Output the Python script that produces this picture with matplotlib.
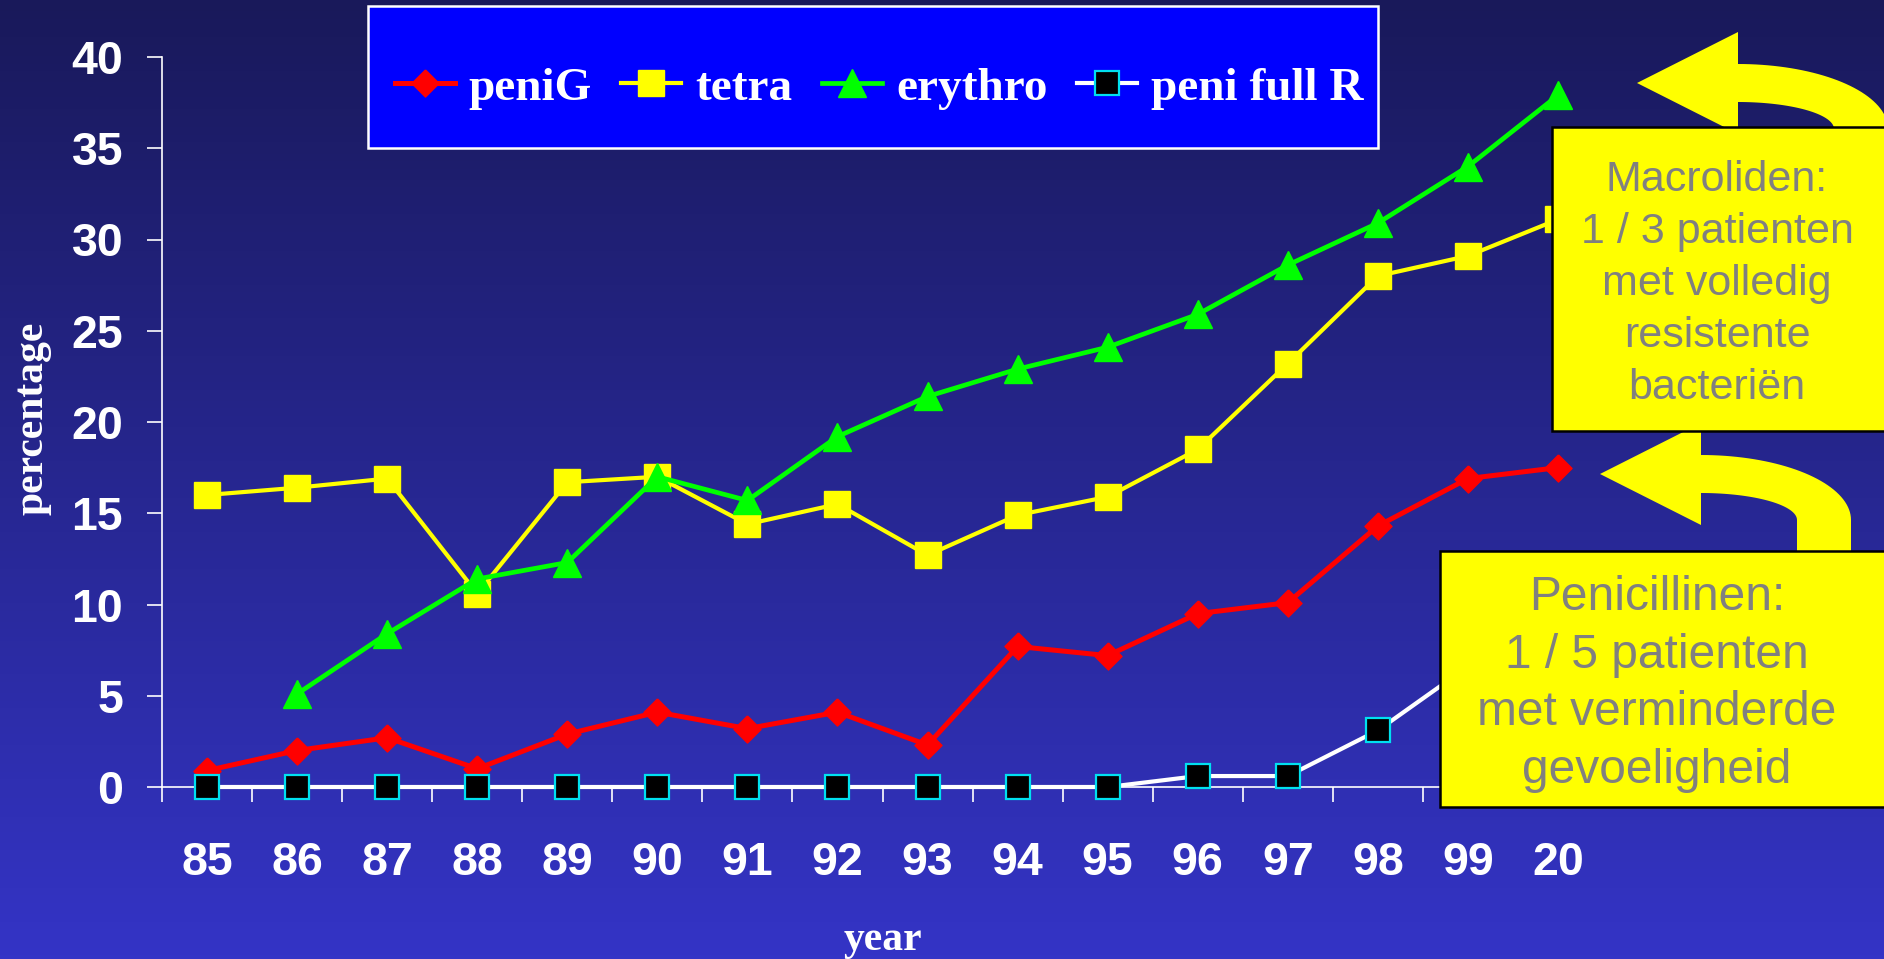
import numpy as np
import matplotlib
matplotlib.use("Agg")
import matplotlib.pyplot as plt
from matplotlib.patches import Rectangle, Polygon

years = ["85", "86", "87", "88", "89", "90", "91", "92", "93", "94", "95", "96", "97", "98", "99", "20"]
peniG = [0.9, 2.0, 2.7, 1.0, 2.9, 4.1, 3.2, 4.1, 2.3, 7.7, 7.2, 9.5, 10.1, 14.3, 16.9, 17.5]
tetra = [16.0, 16.4, 16.9, 10.6, 16.7, 17.0, 14.4, 15.5, 12.7, 14.9, 15.9, 18.5, 23.2, 28.0, 29.1, 31.1]
erythro = [np.nan, 5.1, 8.4, 11.4, 12.3, 17.0, 15.7, 19.2, 21.4, 22.9, 24.1, 25.9, 28.6, 30.9, 34.0, 37.9]
peni_full_R = [0, 0, 0, 0, 0, 0, 0, 0, 0, 0, 0, 0.6, 0.6, 3.1, 6.6, 8.0]
yticks = [0, 5, 10, 15, 20, 25, 30, 35, 40]

note_macro = "Macroliden:\n1 / 3 patienten\nmet volledig\nresistente\nbacteriën"
note_peni = "Penicillinen:\n1 / 5 patienten\nmet verminderde\ngevoeligheid"

W, H = 1884, 959
fig = plt.figure(figsize=(W / 100, H / 100), dpi=100)

def fx(x):
    return x / W

def fy(y):
    return 1 - y / H

# gradient background
bg = fig.add_axes([0, 0, 1, 1], zorder=-10)
top = np.array([25, 25, 90]) / 255
bot = np.array([52, 52, 198]) / 255
t = np.linspace(0, 1, 256)[:, None]
grad = (top[None, :] * (1 - t) + bot[None, :] * t)[:, None, :]
bg.imshow(grad, aspect="auto", extent=[0, 1, 0, 1])
bg.axis("off")

ax = fig.add_axes([fx(162), fy(787), fx(1603) - fx(162), fy(57) - fy(787)])
ax.patch.set_alpha(0)
x = np.arange(len(years))

diamond = [(0, 1), (1, 0), (0, -1), (-1, 0), (0, 1)]
ax.plot(x, peniG, color="red", lw=3.6, marker=diamond, ms=19.5, mfc="red", mec="red", clip_on=False, zorder=4, label="peniG")
ax.plot(x, tetra, color="yellow", lw=3.0, marker="s", ms=18.5, mfc="yellow", mec="yellow", clip_on=False, zorder=3, label="tetra")
ax.plot(x, erythro, color="#00FF00", lw=3.4, marker="^", ms=20, mfc="#00FF00", mec="#00FF00", clip_on=False, zorder=3, label="erythro")
ax.plot(x, peni_full_R, color="white", lw=3.0, marker="s", ms=17.5, mfc="black", mec="#00E0F0", mew=1.6, clip_on=False, zorder=5, label="peni full R")

ax.set_xlim(-0.5, len(years) - 0.5)
ax.set_ylim(0, 40)
ax.set_yticks(yticks)
ax.set_xticks(x)
ax.set_xticklabels(years)
ax.set_xticks(np.arange(len(years) + 1) - 0.5, minor=True)
for s in ["top", "right"]:
    ax.spines[s].set_visible(False)
for s in ["left", "bottom"]:
    ax.spines[s].set_color("white")
    ax.spines[s].set_linewidth(1.2)
ax.tick_params(axis="x", which="major", length=0, pad=39)
ax.tick_params(axis="x", which="minor", length=11, width=1.2, color="white", direction="out")
ax.tick_params(axis="y", length=11, width=1.2, color="white", pad=17)
for lab in ax.get_xticklabels() + ax.get_yticklabels():
    lab.set_fontfamily("Liberation Sans")
    lab.set_fontweight("bold")
    lab.set_fontsize(33.5)
    lab.set_color("white")

fig.text(fx(33), fy(418), "percentage", rotation=90, ha="center", va="center",
         family="Liberation Serif", weight="bold", fontsize=30, color="white")
fig.text(fx(883), fy(950), "year", ha="center", va="baseline",
         family="Liberation Serif", weight="bold", fontsize=30, color="white")

# legend box
fig.patches.append(Rectangle((fx(368), fy(148)), fx(1378) - fx(368), fy(6) - fy(148),
                             transform=fig.transFigure, facecolor="#0000FF", edgecolor="white", lw=1.8, zorder=6))
handles, labels = ax.get_legend_handles_labels()
leg = fig.legend(handles, labels, loc="center", bbox_to_anchor=(fx(879), fy(88)), ncol=4, frameon=False,
                 prop={"family": "Liberation Serif", "weight": "bold", "size": 34},
                 handlelength=1.27, handletextpad=0.3, columnspacing=0.62, labelcolor="white")
leg.set_zorder(7)

# curved arrows
def uturn(dx, dy):
    pts = [(1600, 474), (1701, 423)]
    a = np.linspace(-np.pi / 2, 0, 40)
    pts += list(zip(1701 + 150 * np.cos(a), 520 + 65 * np.sin(a)))
    pts += [(1851, 575), (1797, 575)]
    a = np.linspace(0, -np.pi / 2, 40)
    pts += list(zip(1701 + 96 * np.cos(a), 520 + 27 * np.sin(a)))
    pts += [(1701, 525)]
    return [(fx(px + dx), fy(py + dy)) for px, py in pts]

for dx, dy in [(37, -391), (0, 0)]:
    fig.patches.append(Polygon(uturn(dx, dy), closed=True, transform=fig.transFigure,
                               facecolor="#FFFF00", edgecolor="none", zorder=8))

# note boxes
fig.patches.append(Rectangle((fx(1552), fy(431)), fx(1900) - fx(1552), fy(127) - fy(431),
                             transform=fig.transFigure, facecolor="#FFFF00", edgecolor="black", lw=1.8, zorder=9))
fig.patches.append(Rectangle((fx(1440), fy(807)), fx(1900) - fx(1440), fy(551) - fy(807),
                             transform=fig.transFigure, facecolor="#FFFF00", edgecolor="black", lw=1.8, zorder=9))
fig.text(fx(1717), fy(284), note_macro, ha="center", va="center", multialignment="center",
         family="Liberation Sans", fontsize=31, color="#808080", linespacing=1.38, zorder=10)
fig.text(fx(1657), fy(684), note_peni, ha="center", va="center", multialignment="center",
         family="Liberation Sans", fontsize=34.5, color="#808080", linespacing=1.37, zorder=10)

fig.savefig("out.png", dpi=100)
